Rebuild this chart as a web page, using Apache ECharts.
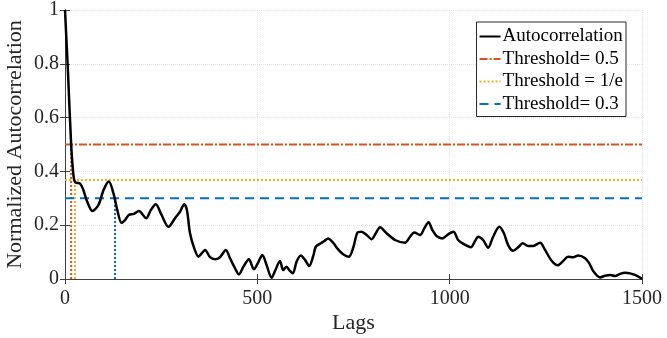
<!DOCTYPE html>
<html>
<head>
<meta charset="utf-8">
<script src="https://cdn.jsdelivr.net/npm/echarts@6/dist/echarts.min.js"></script>
<style>
  html, body { margin: 0; padding: 0; background: #fff; }
  #chart { width: 667px; height: 338px; }
</style>
</head>
<body>
<div id="chart"></div>
<script>
// autocorrelation curve
const lags = [0, 8, 16, 22, 26, 32, 39, 48, 56, 71, 87, 100, 114, 126, 136, 147, 156, 166, 179, 192, 211, 223, 236, 251, 269, 286, 299, 310, 317, 325, 336, 347, 355, 364, 377, 390, 403, 418, 429, 442, 452, 464, 478, 491, 503, 513, 524, 537, 546, 559, 567, 576, 583, 592, 602, 613, 624, 635, 646, 652, 665, 674, 684, 697, 710, 723, 738, 750, 760, 771, 784, 797, 808, 819, 836, 858, 884, 897, 908, 923, 934, 945, 955, 966, 981, 997, 1010, 1022, 1038, 1055, 1066, 1074, 1087, 1100, 1113, 1129, 1141, 1152, 1165, 1178, 1190, 1204, 1217, 1235, 1248, 1265, 1281, 1295, 1308, 1321, 1334, 1352, 1363, 1373, 1391, 1404, 1417, 1430, 1443, 1456, 1469, 1482, 1495, 1500];
const acf = [1.0, 0.76, 0.5, 0.385, 0.36, 0.357, 0.355, 0.33, 0.294, 0.253, 0.275, 0.33, 0.362, 0.318, 0.256, 0.209, 0.219, 0.238, 0.242, 0.253, 0.226, 0.256, 0.278, 0.238, 0.194, 0.226, 0.25, 0.278, 0.256, 0.17, 0.114, 0.083, 0.095, 0.108, 0.081, 0.073, 0.081, 0.108, 0.077, 0.04, 0.017, 0.046, 0.073, 0.036, 0.064, 0.089, 0.052, 0.005, 0.03, 0.067, 0.033, 0.046, 0.033, 0.021, 0.064, 0.087, 0.071, 0.048, 0.089, 0.12, 0.133, 0.141, 0.151, 0.135, 0.11, 0.092, 0.083, 0.12, 0.172, 0.176, 0.164, 0.148, 0.17, 0.192, 0.17, 0.145, 0.135, 0.157, 0.173, 0.164, 0.188, 0.211, 0.182, 0.16, 0.151, 0.167, 0.176, 0.145, 0.129, 0.118, 0.141, 0.157, 0.145, 0.116, 0.157, 0.194, 0.17, 0.126, 0.105, 0.118, 0.133, 0.123, 0.123, 0.135, 0.108, 0.068, 0.051, 0.067, 0.083, 0.081, 0.087, 0.077, 0.058, 0.03, 0.006, 0.012, 0.015, 0.011, 0.019, 0.023, 0.021, 0.015, 0.005, 0.0];

// thresholds and the lag where the curve first drops below each
const thresholdNames = ["Threshold= 0.5", "Threshold = 1/e", "Threshold= 0.3"];
const thresholdValues = [0.5, 1 / Math.E, 0.3];
const crossLags = [16, 26, 130];
const thresholdColors = ["#D95319", "#EDB120", "#0072BD"];
const thresholdDash = [[8, 2, 2, 2], [2, 2], [9, 6]];

const xTicks = [0, 500, 1000, 1500];
const yTicks = [0, 0.2, 0.4, 0.6, 0.8, 1];

const font = "Liberation Serif";
const xMax = xTicks[xTicks.length - 1];

const series = [
  {
    name: "Autocorrelation",
    type: "line",
    data: lags.map((l, i) => [l, acf[i]]),
    symbol: "none",
    smooth: 0.3,
    color: "#000",
    lineStyle: { color: "#000", width: 2.5 },
    z: 5,
  },
];
thresholdNames.forEach((name, i) => {
  // horizontal threshold line
  series.push({
    name: name,
    type: "line",
    data: [[0, thresholdValues[i]], [xMax, thresholdValues[i]]],
    symbol: "none",
    color: thresholdColors[i],
    lineStyle: { color: thresholdColors[i], width: 2, type: thresholdDash[i] },
    z: 3,
  });
  // dotted drop line at the crossing lag
  series.push({
    name: name + " lag",
    type: "line",
    data: [[crossLags[i], 0], [crossLags[i], thresholdValues[i]]],
    symbol: "none",
    color: thresholdColors[i],
    lineStyle: { color: thresholdColors[i], width: 2, type: [2, 2] },
    z: 3,
  });
});

const chart = echarts.init(document.getElementById("chart"));
chart.setOption({
  animation: false,
  grid: { left: 65, right: 25, top: 10, bottom: 59, outerBoundsMode: "none" },
  legend: {
    data: ["Autocorrelation"].concat(thresholdNames),
    orient: "vertical",
    right: 41,
    top: 22,
    backgroundColor: "#fff",
    borderColor: "#262626",
    borderWidth: 1,
    borderRadius: 0,
    padding: [5, 3, 3, 2],
    itemGap: 3.5,
    itemWidth: 21,
    itemHeight: 14,
    itemStyle: { opacity: 0 },
    textStyle: { fontFamily: font, fontSize: 19, color: "#000", padding: [0, 0, 0, -3] },
  },
  xAxis: [
    {
      type: "value",
      min: 0,
      max: xMax,
      interval: 500,
      name: "Lags",
      nameLocation: "middle",
      nameGap: 33,
      nameMoveOverlap: false,
      nameTextStyle: { fontFamily: font, fontSize: 22, color: "#262626" },
      axisLine: { lineStyle: { color: "#404040", width: 1 } },
      axisTick: { inside: true, length: 5, lineStyle: { color: "#404040" } },
      axisLabel: { fontFamily: font, fontSize: 20, color: "#262626", margin: 10, formatter: (v) => String(v) },
      splitLine: { show: true, lineStyle: { color: "#e3e3e3", type: "dotted" } },
    },
    {
      type: "value",
      position: "top",
      min: 0,
      max: xMax,
      interval: 500,
      axisLine: { show: true, lineStyle: { color: "#404040", width: 1 } },
      axisTick: { show: true, inside: true, length: 5, lineStyle: { color: "#404040" } },
      axisLabel: { show: false },
      splitLine: { show: false },
    },
  ],
  yAxis: [
    {
      type: "value",
      min: 0,
      max: 1,
      interval: 0.2,
      name: "Normalized Autocorrelation",
      nameLocation: "middle",
      nameGap: 39,
      nameMoveOverlap: false,
      nameTextStyle: { fontFamily: font, fontSize: 22, color: "#262626" },
      axisLine: { show: true, lineStyle: { color: "#404040", width: 1 } },
      axisTick: { show: true, inside: true, length: 5, lineStyle: { color: "#404040" } },
      axisLabel: { fontFamily: font, fontSize: 20, color: "#262626", margin: 6 },
      splitLine: { show: true, lineStyle: { color: "#e3e3e3", type: "dotted" } },
    },
    {
      type: "value",
      position: "right",
      min: 0,
      max: 1,
      interval: 0.2,
      axisLine: { show: true, lineStyle: { color: "#404040", width: 1 } },
      axisTick: { show: true, inside: true, length: 5, lineStyle: { color: "#404040" } },
      axisLabel: { show: false },
      splitLine: { show: false },
    },
  ],
  series: series,
});
</script>
</body>
</html>
